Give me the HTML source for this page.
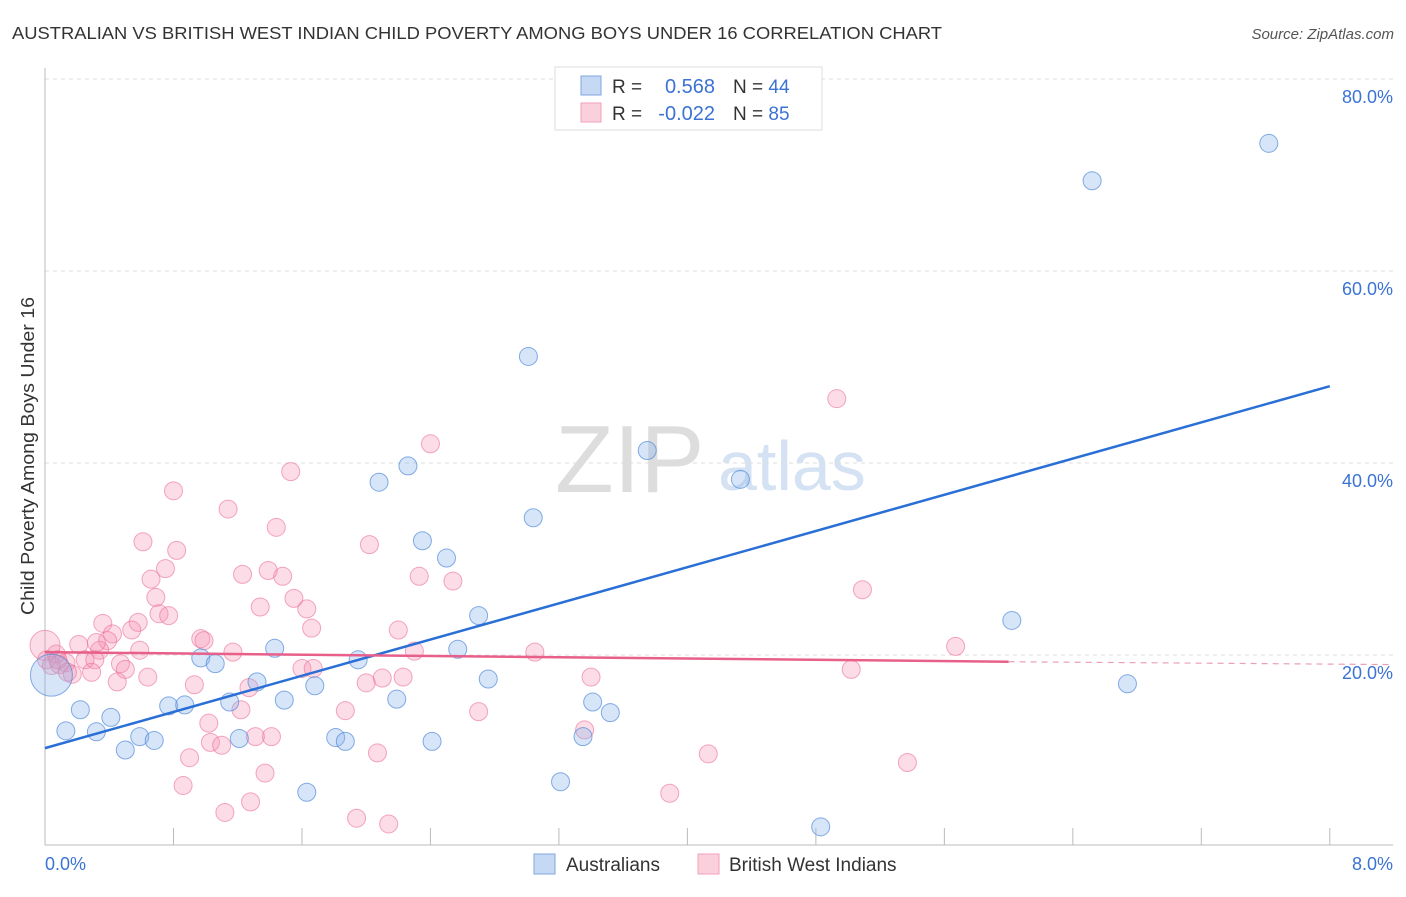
<!DOCTYPE html>
<html><head><meta charset="utf-8"><style>
body{margin:0;background:#fff;font-family:"Liberation Sans",sans-serif}
svg text{font-family:"Liberation Sans",sans-serif}
</style></head><body>
<svg id="c" width="1406" height="892">
<text x="12" y="39" font-size="17.5" fill="#333" textLength="930" lengthAdjust="spacingAndGlyphs">AUSTRALIAN VS BRITISH WEST INDIAN CHILD POVERTY AMONG BOYS UNDER 16 CORRELATION CHART</text>
<text x="1394" y="39" font-size="15" fill="#555" font-style="italic" text-anchor="end">Source: ZipAtlas.com</text>
<g>
<text x="555" y="492" font-size="96" fill="#ddd" font-family="Liberation Serif">ZIP</text>
<text x="718" y="490" font-size="70" fill="#d4e2f4">atlas</text>
</g>
<g id="grid"></g><g id="ax"></g><g id="pts"></g><g id="trend"></g>
<text transform="translate(34,456) rotate(-90)" font-size="18" fill="#333" text-anchor="middle" textLength="318" lengthAdjust="spacingAndGlyphs">Child Poverty Among Boys Under 16</text>
<text x="45" y="870" font-size="18" fill="#3b73d4">0.0%</text>
<text x="1393" y="870" font-size="18" fill="#3b73d4" text-anchor="end">8.0%</text>
<g>
<rect x="555" y="67" width="267" height="63" fill="#fff" stroke="#ddd"/>
<rect x="581" y="76" width="20" height="19" fill="#c5d9f5" stroke="#7fa7e0"/>
<rect x="581" y="103" width="20" height="19" fill="#fbd0dd" stroke="#f0a0b8"/>
<text x="612" y="93" font-size="19" fill="#333">R =</text>
<text x="715" y="93" font-size="20" fill="#3b73d4" text-anchor="end">0.568</text>
<text x="733" y="93" font-size="19" fill="#333">N = <tspan fill="#3b73d4">44</tspan></text>
<text x="612" y="120" font-size="19" fill="#333">R =</text>
<text x="715" y="120" font-size="20" fill="#3b73d4" text-anchor="end">-0.022</text>
<text x="733" y="120" font-size="19" fill="#333">N = <tspan fill="#3b73d4">85</tspan></text>
</g>
<g>
<rect x="534" y="854" width="21" height="20" fill="#c5d9f5" stroke="#7fa7e0"/>
<text x="566" y="871" font-size="19" fill="#333">Australians</text>
<rect x="698" y="854" width="21" height="20" fill="#fbd0dd" stroke="#f0a0b8"/>
<text x="729" y="871" font-size="19" fill="#333">British West Indians</text>
</g>
</svg>
<script>
const yTicks=[20,40,60,80];
const xTicks=[0.8,1.6,2.4,3.2,4.0,4.8,5.6,6.4,7.2,8.0];
const blueX=[7.62,6.52,3.01,3.75,4.33,2.26,2.08,3.04,2.35,2.50,6.02,2.70,1.43,2.57,0.97,1.95,1.06,6.74,2.76,1.32,1.68,2.19,1.49,3.41,0.77,0.87,1.15,3.52,0.22,0.41,0.13,0.32,0.59,1.81,1.87,3.35,2.41,1.21,0.68,0.50,3.21,1.63,4.83,0.04];
const blueY=[73.3,69.4,51.1,41.3,38.3,39.7,38.0,34.3,31.9,30.1,23.6,24.1,20.7,20.6,19.7,19.5,19.1,17.0,17.5,17.2,16.8,15.4,15.3,15.1,14.7,14.8,15.1,14.0,14.3,13.5,12.1,12.0,11.5,11.4,11.0,11.5,11.0,11.3,11.1,10.1,6.8,5.7,2.1,17.9];
const pinkX=[4.93,2.40,1.53,0.80,1.14,1.44,0.61,2.02,0.82,0.75,1.23,1.39,1.48,2.33,0.66,2.54,5.09,0.69,1.55,1.34,1.63,0.71,0.77,0.36,0.58,0.54,0.42,2.20,1.66,0.97,0.99,0.39,0.21,5.67,1.17,3.05,2.30,0.34,0.07,0.25,0.31,0.13,0.47,0.50,1.60,1.67,5.02,0.0,0.29,0.17,0.64,3.40,2.23,2.10,2.00,0.45,0.93,1.27,1.87,2.70,1.22,1.02,3.36,1.41,1.31,1.03,1.10,0.90,4.13,2.07,1.37,5.37,0.86,3.89,1.28,1.12,1.94,2.14,0.01,0.09,0.14,0.04,0.59,0.32,0.08];
const pinkY=[46.7,42.0,39.1,37.1,35.2,33.3,31.8,31.5,30.9,29.0,28.4,28.8,28.2,28.2,27.9,27.7,26.8,26.0,25.9,25.0,24.8,24.3,24.1,23.3,23.4,22.6,22.2,22.6,22.8,21.7,21.5,21.5,21.1,20.9,20.3,20.3,20.4,20.5,20.1,19.5,19.5,19.2,19.1,18.5,18.6,18.6,18.5,21.0,18.2,18.0,17.7,17.7,17.7,17.6,17.1,17.2,16.9,16.6,14.2,14.1,14.3,12.9,12.2,11.5,11.5,10.9,10.6,9.3,9.7,9.8,7.7,8.8,6.4,5.6,4.7,3.6,3.0,2.4,19.5,19.0,18.2,18.9,20.5,21.3,19.5];
const blueTrendX=[0,8];const blueTrendY=[10.3,48.0];
const pinkTrendX=[0,6.0,8];const pinkTrendY=[20.3,19.3,19.0];
const NS='http://www.w3.org/2000/svg';
const X=v=>45+v*160.6, Y=v=>847-v*9.6;
function mk(p,t,a){const e=document.createElementNS(NS,t);for(const k in a)e.setAttribute(k,a[k]);document.getElementById(p).appendChild(e);return e;}
yTicks.forEach(t=>{
 const l=mk('grid','line',{x1:45,x2:1393,y1:Y(t),y2:Y(t),stroke:'#ddd','stroke-dasharray':'4,4'});
 
 
 const tx=mk('grid','text',{x:1393,y:Y(t)+24,'font-size':18,fill:'#3b73d4','text-anchor':'end'});
 tx.textContent=t.toFixed(1)+'%';
 
 
});
mk('ax','line',{x1:45,x2:45,y1:68,y2:845,stroke:'#bbb'});
mk('ax','line',{x1:45,x2:1393,y1:845,y2:845,stroke:'#bbb'});
xTicks.forEach(t=>{const l=mk('ax','line',{x1:X(t),x2:X(t),y1:828,y2:845,stroke:'#bbb'});
 
 });
pinkX.forEach((v,i)=>{const r=i==47?15:9;
 const c=mk('pts','circle',{cx:X(v),cy:Y(pinkY[i]),r:r,fill:'rgba(244,143,177,0.3)',stroke:'rgba(236,110,150,0.6)','stroke-width':1});
 
 });
blueX.forEach((v,i)=>{const r=i==43?21:9;
 const c=mk('pts','circle',{cx:X(v),cy:Y(blueY[i]),r:r,fill:'rgba(140,180,235,0.35)',stroke:'rgba(70,130,215,0.65)','stroke-width':1});
 
 });
const bl=mk('trend','line',{x1:X(blueTrendX[0]),y1:Y(blueTrendY[0]),x2:X(blueTrendX[1]),y2:Y(blueTrendY[1]),stroke:'#2a6fd6','stroke-width':2.5});


const pl=mk('trend','line',{x1:X(pinkTrendX[0]),y1:Y(pinkTrendY[0]),x2:X(pinkTrendX[1]),y2:Y(pinkTrendY[1]),stroke:'#e8608a','stroke-width':2.5});


const pd=mk('trend','line',{x1:X(pinkTrendX[1]),y1:Y(pinkTrendY[1]),x2:1393,y2:Y(pinkTrendY[2]),stroke:'#e8a0b8','stroke-width':1.2,'stroke-dasharray':'6,5'});


</script>
</body></html>
